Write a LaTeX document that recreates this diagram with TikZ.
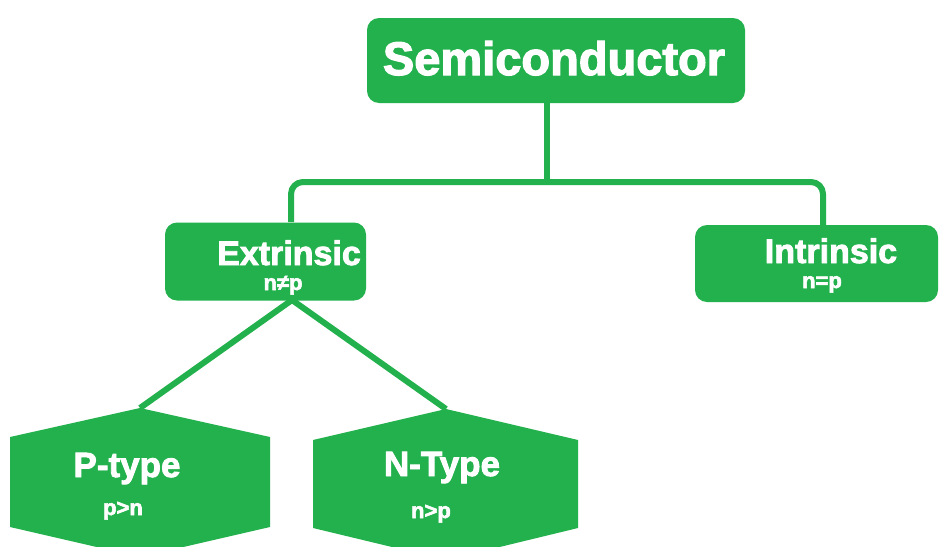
\documentclass[tikz,border=0pt]{standalone}
\usepackage{fontspec}
\setmainfont{Liberation Sans}
\newfontfamily\heavy{Liberation Sans}[BoldFeatures={FakeBold=2.5}]
\definecolor{grn}{RGB}{34,177,76}
\begin{document}
\begin{tikzpicture}[x=1pt,y=-1pt,
  box/.style={fill=grn, rounded corners=12pt, inner sep=0pt},
  conn/.style={draw=grn, line width=6pt, line join=round},
  lbl/.style={text=white, anchor=base, inner sep=0pt, font=\heavy\bfseries},
  big/.style={lbl, font=\heavy\bfseries\fontsize{47}{50}\selectfont},
  mid/.style={lbl, font=\heavy\bfseries\fontsize{34}{36}\selectfont},
  midb/.style={lbl, font=\heavy\bfseries\fontsize{35}{38}\selectfont},
  sml/.style={lbl, font=\heavy\bfseries\fontsize{22}{24}\selectfont}]
\useasboundingbox (0,0) rectangle (941,546);
\clip (0,0) rectangle (941,546);
% boxes
\node[box, minimum width=378pt, minimum height=85pt] (semi) at (556,60.5) {};
\node[box, minimum width=201pt, minimum height=78pt] (ext) at (265.5,261.5) {};
\node[box, minimum width=243pt, minimum height=77pt] (int) at (816.5,263.5) {};
% hexagons
\coordinate (ptop) at (140,408);
\coordinate (ntop) at (446,409);
\fill[grn] (ptop) -- (270,437) -- (270,527) -- (140,557) -- (10,527) -- (10,437) -- cycle;
\fill[grn] (ntop) -- (578,440) -- (578,528) -- (446,560) -- (313,528) -- (313,440) -- cycle;
% connector anchors
\coordinate (semibot) at (547,103);
\coordinate (exttop) at (291,222);
\coordinate (inttop) at (823,225);
\coordinate (extbot) at (292,300);
\draw[conn] (semibot) -- (547,182);
\draw[conn, rounded corners=12pt] (exttop) -- (291,182) -- (823,182) -- (inttop);
\draw[conn] (ptop) -- (extbot) -- (ntop);
% texts
\node[big] (tsemi) at (554,75) {Semiconductor};
\node[mid] (text) at (289,265) {Extrinsic};
\node[sml] (text2) at (283,290) {n≠p};
\node[mid] (tint) at (831,263) {Intrinsic};
\node[sml] (tint2) at (822,288) {n=p};
\node[midb] (tp) at (127,477) {P-type};
\node[sml] (tp2) at (123,515) {p>n};
\node[midb] (tn) at (442,476) {N-Type};
\node[sml] (tn2) at (431,518) {n>p};
\end{tikzpicture}
\end{document}
